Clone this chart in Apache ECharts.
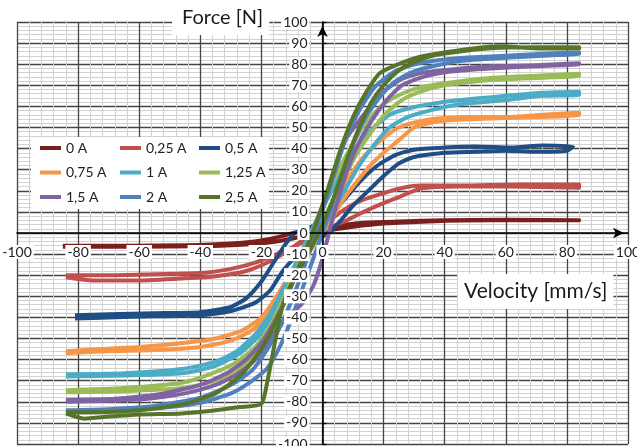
<!DOCTYPE html>
<html><head><meta charset="utf-8">
<script src="https://cdn.jsdelivr.net/npm/echarts@6/dist/echarts.min.js"></script>
<style>html,body{margin:0;padding:0;background:#fff}#c{width:637px;height:446px}</style>
</head><body><div id="c"></div>
<script>
// ---- data (velocity mm/s, force N), one hysteresis loop per current ----
const seriesNames = ['0 A','0,25 A','0,5 A','0,75 A','1 A','1,25 A','1,5 A','2 A','2,5 A'];
const seriesColors = ['#7a1e1e','#c0504d','#1f4e85','#f79646','#4bacc6','#9bbb59','#8064a2','#4f81bd','#56752a'];
const xRange = [-100, 100], xStep = 20;
const yRange = [-100, 100], yStep = 10;
const xTitle = 'Velocity [mm/s]';
const yTitle = 'Force [N]';

const loop0A = [[-85,-6.5],[-60,-6.5],[-40,-6.3],[-25,-5.5],[-15,-4],[-8,-2],[-3,0],[3,1.5],[10,3],[20,4.5],[35,5.5],[55,6],[84,6],
  [84,6.3],[60,6.3],[40,6],[25,5.5],[15,5],[8,4],[0,2],[-7,1],[-12,-1],[-20,-3.5],[-30,-5],[-45,-5.8],[-65,-6],[-85,-6]];
const loop025A = [[-84,-21],[-75,-22.5],[-60,-22.5],[-45,-21.5],[-35,-20.5],[-25,-18],[-18,-14],[-12,-9],[-7,-4],[-2,0],[3,3],[8,6],[12,9],[18,13],[25,17],[32,21],[45,22],[60,22],[84,21.5],
  [84,23],[65,23],[45,22.5],[32,22.5],[25,21],[18,18],[12,15],[6,10],[0,3],[-5,-3],[-10,-7],[-15,-10],[-22,-14],[-30,-17],[-40,-19],[-55,-19.5],[-70,-20],[-84,-20]];
const loop05A = [[-81,-40.5],[-70,-40],[-55,-39.5],[-40,-39],[-30,-37],[-22,-33],[-17,-27],[-13,-18],[-8,-10],[-3,-4],[2,0],[6,6],[10,13],[15,20],[20,27],[25,33],[30,36],[40,38],[50,38.5],[60,39],[70,38.5],[80,39],
  [82,41],[72,41.5],[62,40.5],[50,41],[40,40.5],[30,39.5],[24,37],[18,32],[12,24],[6,14],[0,6],[-5,2],[-9,0],[-12,-5],[-16,-14],[-20,-23],[-25,-31],[-30,-35],[-40,-37.5],[-55,-38],[-70,-38.5],[-81,-39]];
const loop075A = [[-84,-57],[-70,-56],[-55,-55.5],[-40,-54],[-30,-51],[-23,-46],[-18,-39],[-13,-30],[-8,-18],[-3,-6],[2,4],[6,14],[10,22],[15,31],[20,38],[25,44],[30,50],[38,53],[50,54],[60,54.5],[72,55],[84,56],
  [84,57],[72,56],[60,55],[50,55],[40,54.5],[32,53],[25,50],[20,45],[14,37],[8,25],[3,13],[-2,2],[-6,-8],[-10,-18],[-15,-30],[-20,-40],[-26,-46],[-35,-50],[-45,-52],[-60,-54],[-72,-55],[-84,-56]];
const loop1A = [[-84,-68],[-65,-67.5],[-46,-66.5],[-35,-63],[-27,-57],[-21,-49],[-16,-38],[-11,-25],[-6,-12],[-1,0],[4,12],[8,22],[12,32],[17,42],[22,50],[28,55],[35,58],[45,61],[60,63],[72,65],[84,65.5],
  [84,67],[72,66.5],[60,65],[45,63],[35,61],[28,59],[22,56],[16,49],[10,38],[5,25],[0,12],[-4,0],[-8,-12],[-12,-24],[-17,-38],[-22,-48],[-28,-56],[-35,-61],[-46,-64.5],[-65,-66.5],[-84,-67]];
const loop125A = [[-84,-75.5],[-65,-75],[-46,-73.5],[-35,-70],[-28,-65],[-22,-57],[-17,-46],[-12,-30],[-7,-15],[-2,0],[3,14],[7,26],[11,37],[16,48],[21,57],[26,63],[32,67],[40,70],[55,72.5],[70,73.5],[84,74.5],
  [84,75.5],[70,74.5],[55,73.5],[40,71],[32,69],[26,66],[20,61],[14,52],[9,40],[4,26],[0,12],[-4,-2],[-8,-16],[-12,-28],[-17,-44],[-22,-54],[-29,-62],[-37,-67],[-46,-71],[-65,-73.5],[-84,-74.5]];
const loop15A = [[-84,-80],[-70,-79.5],[-57,-78.5],[-45,-76],[-35,-72],[-28,-67],[-22,-60],[-17,-50],[-12,-40],[-7,-34],[-3,-25],[0,-12],[3,5],[7,25],[11,40],[16,53],[21,63],[26,70],[33,74],[42,76.5],[55,78],[70,79],[84,80],
  [84,80.5],[70,79.5],[55,79],[42,77.5],[33,76],[26,73],[20,67],[14,57],[7,43],[4,30],[1,16],[-3,0],[-7,-14],[-11,-28],[-15,-40],[-20,-52],[-25,-60],[-32,-67],[-40,-72],[-52,-76],[-68,-78.5],[-84,-79]];
const loop2A = [[-84,-84.5],[-65,-84],[-50,-82.5],[-40,-80.5],[-30,-76],[-24,-71],[-18,-64],[-14,-54],[-11,-44],[-7,-28],[-3,-12],[1,4],[5,22],[9,38],[13,52],[18,63],[23,71],[29,76],[36,79],[45,81.5],[60,83],[72,84],[84,85],
  [84,85.5],[72,85],[60,84],[45,83],[36,81.5],[29,79.5],[23,76],[17,69],[12,58],[7,42],[3,24],[-1,6],[-5,-12],[-9,-28],[-13,-42],[-18,-55],[-23,-65],[-30,-72],[-40,-78],[-55,-82],[-70,-83.5],[-84,-84]];
const loop25A = [[-84,-85.5],[-78,-88],[-70,-87],[-60,-86],[-46,-85.5],[-35,-84],[-27,-82.5],[-20,-81],[-18,-70],[-16,-55],[-14,-40],[-12,-30],[-8,-18],[-4,-8],[0,4],[4,18],[8,35],[12,50],[16,62],[20,70],[25,77],[30,81],[36,84],[45,86],[55,87.5],[70,88],[84,88],
  [84,87.5],[70,87.5],[58,88.5],[32,83.5],[19,76],[14,66],[10,55],[6,40],[2,22],[-2,5],[-6,-10],[-10,-24],[-14,-38],[-18,-50],[-23,-61],[-28,-69],[-35,-76],[-45,-81],[-60,-84],[-75,-85],[-84,-85]];
const seriesData = [loop0A, loop025A, loop05A, loop075A, loop1A, loop125A, loop15A, loop2A, loop25A];

// ---- chart ----
const W = 637, H = 446;
const GRID = {left: 17, right: 9, top: 22, bottom: 2};
const gridW = W - GRID.left - GRID.right, gridH = H - GRID.top - GRID.bottom;
// distance of the zero lines from the bottom / left edges of the plot
const xAxisShift = gridH * (0 - yRange[0]) / (yRange[1] - yRange[0]);
const yAxisShift = gridW * (0 - xRange[0]) / (xRange[1] - xRange[0]);

const chart = echarts.init(document.getElementById('c'));
const FONT = 'Lato';
const labelStyle = {fontFamily: FONT, fontSize: 14, color: '#222', backgroundColor: '#fff', padding: [0, 2]};
// axis 0: crossing axis through zero, with arrow and tick labels (drawn above the data)
function mainAxis(range, step, margin, shift, showTick) {
  return {
    type: 'value', min: range[0], max: range[1], interval: step, z: 5, offset: -shift,
    axisLine: {show: true, onZero: false, lineStyle: {color: '#000', width: 1.6}, symbol: ['none', 'arrow'], symbolSize: [8, 11], symbolOffset: [0, -4]},
    axisTick: {show: showTick, inside: true, length: 4, lineStyle: {color: '#000', width: 1.3}},
    splitLine: {show: false},
    axisLabel: Object.assign({show: true, margin: margin, showMinLabel: true, showMaxLabel: true, hideOverlap: false}, labelStyle)
  };
}
// axis 1: same scale, only the major / minor grid (drawn below the data)
function gridAxis(range, step) {
  return {
    type: 'value', min: range[0], max: range[1], interval: step, z: 0,
    axisLine: {show: false, onZero: false}, axisTick: {show: false}, axisLabel: {show: false},
    splitLine: {show: true, lineStyle: {color: '#444', width: 1.3}},
    minorTick: {show: false, splitNumber: 5},
    minorSplitLine: {show: true, lineStyle: {color: '#d2d2d2', width: 1}}
  };
}
const legendCommon = {
  orient: 'vertical', icon: 'rect', itemWidth: 21, itemHeight: 4, itemGap: 10.5, padding: 0,
  selectedMode: false, top: 141, z: 4,
  textStyle: {fontFamily: FONT, fontSize: 14, color: '#222', lineHeight: 14}
};
chart.setOption({
  animation: false,
  backgroundColor: '#fff',
  grid: Object.assign({containLabel: false, outerBoundsMode: 'none'}, GRID),
  xAxis: [Object.assign(mainAxis(xRange, xStep, 12, xAxisShift, false), {position: 'bottom'}),
          Object.assign(gridAxis(xRange, xStep), {position: 'bottom'})],
  yAxis: [Object.assign(mainAxis(yRange, yStep, 13, yAxisShift, true), {position: 'left'}),
          Object.assign(gridAxis(yRange, yStep), {position: 'left'})],
  title: [
    {text: yTitle, left: 172, top: 3, padding: [5, 6, 7, 10], backgroundColor: '#fff', z: 6,
     textStyle: {fontFamily: FONT, fontSize: 20, fontWeight: 'normal', color: '#1a1a1a'}},
    {text: xTitle, left: 458, top: 274, padding: [7, 6, 7, 6], backgroundColor: '#fff', z: 6,
     textStyle: {fontFamily: FONT, fontSize: 21, fontWeight: 'normal', color: '#1a1a1a'}}
  ],
  graphic: {elements: [{type: 'rect', z: 1, shape: {x: 31, y: 137, width: 238, height: 72}, style: {fill: '#fff'}}]},
  legend: [
    Object.assign({left: 40, data: [seriesNames[0], seriesNames[3], seriesNames[6]]}, legendCommon),
    Object.assign({left: 120, data: [seriesNames[1], seriesNames[4], seriesNames[7]]}, legendCommon),
    Object.assign({left: 199, data: [seriesNames[2], seriesNames[5], seriesNames[8]]}, legendCommon)
  ],
  series: seriesNames.map((name, i) => ({
    name: name, type: 'line', xAxisIndex: 0, yAxisIndex: 0, z: 2,
    data: seriesData[i], symbol: 'none', smooth: 0.2,
    color: seriesColors[i],
    lineStyle: {color: seriesColors[i], width: 4, join: 'round'}
  }))
});
</script></body></html>
